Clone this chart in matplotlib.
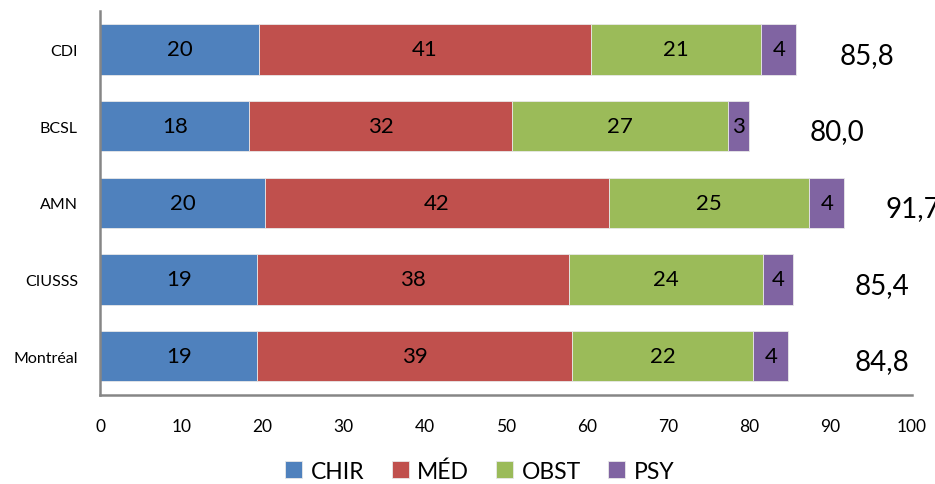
import matplotlib.pyplot as plt
import numpy as np

plt.rcParams['font.family'] = ['Lato', 'DejaVu Sans']

# Données
categories = ['CDI', 'BCSL', 'AMN', 'CIUSSS', 'Montréal']
series = ['CHIR', 'MÉD', 'OBST', 'PSY']
chir = [19.6, 18.4, 20.3, 19.4, 19.4]
med = [40.9, 32.4, 42.4, 38.4, 38.8]
obst = [21.0, 26.6, 24.7, 23.9, 22.3]
psy = [4.3, 2.6, 4.3, 3.7, 4.3]

colors = ['#4F81BD', '#C0504D', '#9BBB59', '#8064A2']
# position x (début) des totaux, placés à la main comme dans l'original
total_x = [91.1, 87.4, 96.8, 93.0, 93.0]

fig = plt.figure(figsize=(9.35, 4.85), dpi=100)
ax = fig.add_axes([0.107, 0.1845, 0.868, 0.7905])

y = np.arange(len(categories))
left = np.zeros(len(categories))
for name, vals, c in zip(series, [chir, med, obst, psy], colors):
    vals = np.array(vals)
    ax.barh(y, vals, left=left, height=0.66, color=c, label=name,
            edgecolor='#e8e8e8', linewidth=0.6)
    for yi, l, v in zip(y, left, vals):
        ax.text(l + v / 2, yi, f"{int(round(v + 1e-9))}", ha='center', va='center',
                fontsize=16, color='black')
    left = left + vals

for yi, tot, tx in zip(y, left, total_x):
    ax.text(tx, yi + 0.07, f"{tot:.1f}".replace('.', ','), ha='left', va='center',
            fontsize=20, color='black', clip_on=False)

ax.set_xlim(0, 100)
ax.set_ylim(len(categories) - 0.5, -0.5)
ax.set_xticks(np.arange(0, 101, 10))
ax.set_yticks(y)
ax.set_yticklabels(categories, fontsize=11.5)
ax.tick_params(axis='x', length=0, pad=17, labelsize=12.5)
ax.tick_params(axis='y', length=0, pad=16)

for s in ['top', 'right']:
    ax.spines[s].set_visible(False)
for s in ['left', 'bottom']:
    ax.spines[s].set_color('#868686')
    ax.spines[s].set_linewidth(1.8)

fig.legend(loc='center', bbox_to_anchor=(0.513, 0.027), ncol=4, frameon=False,
           fontsize=16.5, handlelength=0.75, handleheight=0.75, handletextpad=0.35,
           columnspacing=1.2)

fig.savefig('out.png', dpi=100)
